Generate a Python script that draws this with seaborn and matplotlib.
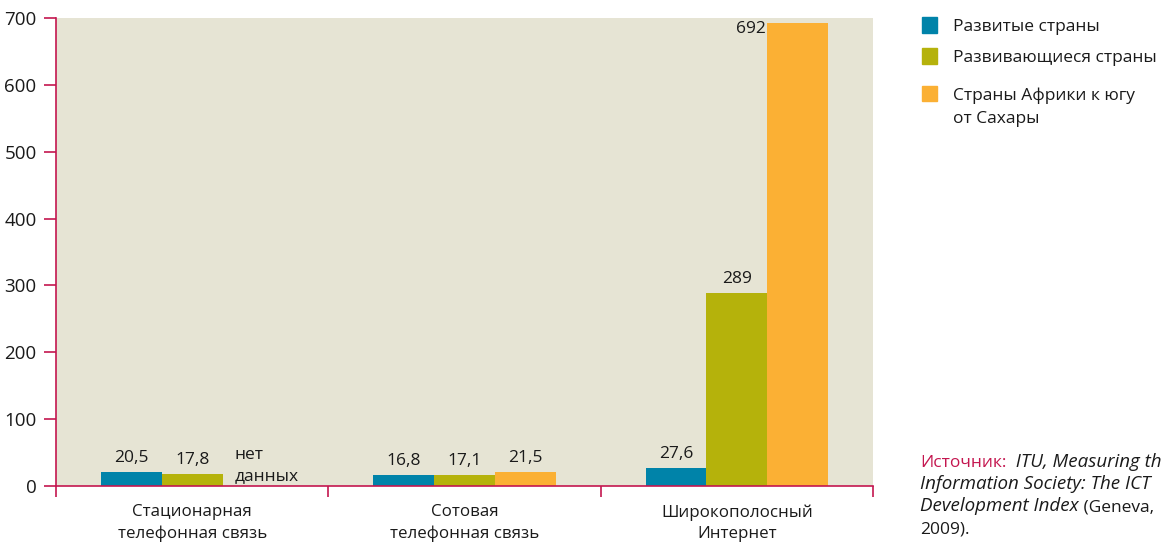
import numpy as np
import pandas as pd
import matplotlib
matplotlib.use("Agg")
import matplotlib.pyplot as plt
from matplotlib.patches import Rectangle
import seaborn as sns

categories = ["Стационарная\nтелефонная связь", "Сотовая\nтелефонная связь", "Широкополосный\nИнтернет"]
groups = ["Развитые страны", "Развивающиеся страны", "Страны Африки к югу\nот Сахары"]
developed = [20.5, 16.8, 27.6]
developing = [17.8, 17.1, 289]
africa = [np.nan, 21.5, 692]
yticks = [0, 100, 200, 300, 400, 500, 600, 700]

colors = ["#0083A9", "#B5B20B", "#FBB034"]
crimson = "#C4164F"
bg = "#E6E4D4"
ink = "#1a1a1a"

rows = []
for g, vals in zip(groups, [developed, developing, africa]):
    for c, v in zip(categories, vals):
        rows.append({"cat": c, "grp": g, "val": v})
df = pd.DataFrame(rows)

sns.set_style("white")
plt.rcParams["font.family"] = ["Open Sans", "DejaVu Sans"]

W, H = 1161, 544
fig = plt.figure(figsize=(W / 100, H / 100), dpi=100)
ax = fig.add_axes([56 / W, 1 - 486 / H, (873 - 56) / W, (486 - 18) / H])
ax.set_facecolor(bg)

sns.barplot(data=df, x="cat", y="val", hue="grp", palette=colors, width=0.67,
            saturation=1, order=categories, hue_order=groups, ax=ax, legend=False,
            linewidth=0)

ax.set_xlim(-0.5, 2.5)
ax.set_ylim(0, 700)
ax.set_yticks(yticks)
ax.set_xlabel("")
ax.set_ylabel("")
for s in ["top", "right"]:
    ax.spines[s].set_visible(False)
for s in ["left", "bottom"]:
    ax.spines[s].set_color(crimson)
    ax.spines[s].set_linewidth(1.2)

ax.tick_params(axis="y", left=True, colors=crimson, length=9, width=1.2,
               labelcolor=ink, labelsize=13.5, pad=5)
ax.set_xticks(range(len(categories)))
ax.set_xticklabels(categories, fontsize=12.2, color=ink, linespacing=1.45)
ax.tick_params(axis="x", which="major", length=0, pad=13)
ax.set_xticks([-0.5, 0.5, 1.5, 2.5], minor=True)
ax.tick_params(axis="x", which="minor", bottom=True, colors=crimson, length=8, width=1.2)

# value labels
fmt = lambda v: f"{v:g}".replace(".", ",") if v < 100 else f"{v:.0f}"
bw = ax.containers[0].patches[0].get_width()
for container, vals in zip(ax.containers, [developed, developing, africa]):
    present = [v for v in vals if not np.isnan(v)]
    for patch, v in zip(container.patches, present):
        cx = patch.get_x() + patch.get_width() / 2
        if v > 650:
            ax.text(patch.get_x() - 0.004, v + 3, fmt(v), ha="right", va="top",
                    fontsize=12.5, color=ink)
        else:
            ax.text(cx, v + 9, fmt(v), ha="center", va="bottom",
                    fontsize=12.5, color=ink)

# "no data" note where the Africa bar is missing
for i, v in enumerate(africa):
    if np.isnan(v):
        p = ax.containers[1].patches[i]
        ax.text(p.get_x() + p.get_width() + bw * 0.2, 3, "нет\nданных",
                ha="left", va="bottom", fontsize=12.5, color=ink, linespacing=1.4)

# legend (square aligned with the first line of each label)
legend_y = [25, 56, 93]
for g, c, y in zip(groups, colors, legend_y):
    fig.patches.append(Rectangle((922 / W, 1 - (y + 7.5) / H), 15 / W, 15 / H,
                                 transform=fig.transFigure, color=c, figure=fig))
    fig.text(953 / W, 1 - (y - 6) / H, g, fontsize=12.5, color=ink, va="top",
             linespacing=1.6)

# source note
fs = 12.5
fi = 13.5
t1 = fig.text(920 / W, 1 - 467 / H, "Источник:", color=crimson, fontsize=fs,
              va="baseline")
ax.annotate("  ITU, Measuring the", xy=(1, 0), xycoords=t1, va="bottom",
            fontsize=fi, style="italic", color=ink, annotation_clip=False)
fig.text(920 / W, 1 - 489 / H, "Information Society: The ICT", fontsize=fi,
         style="italic", color=ink, va="baseline")
t3 = fig.text(920 / W, 1 - 511 / H, "Development Index", fontsize=fi,
              style="italic", color=ink, va="baseline")
ax.annotate(" (Geneva,", xy=(1, 0), xycoords=t3, va="bottom", fontsize=fs,
            color=ink, annotation_clip=False)
fig.text(920 / W, 1 - 533 / H, "2009).", fontsize=fs, color=ink, va="baseline")

fig.savefig("out.png", dpi=100)
